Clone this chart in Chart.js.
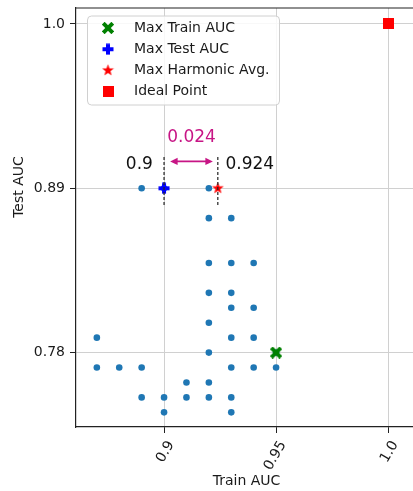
<!DOCTYPE html>
<html lang="en">
<head>
    <meta charset="UTF-8">
    <title>Train vs Test AUC</title>
    <style>
        html, body {
            margin: 0;
            padding: 0;
            background: #fff;
            overflow: hidden;
        }
        .chart-box {
            width: 424px;
            height: 491px;
        }
    </style>
</head>
<body>
    <div class="chart-box"><canvas id="aucChart"></canvas></div>

    <script src="https://cdn.jsdelivr.net/npm/chart.js"></script>
    <script>
        // grid search results (train AUC, test AUC)
        const trainAuc = [0.89, 0.90, 0.92,
                          0.92, 0.93,
                          0.92, 0.93, 0.94,
                          0.92, 0.93,
                          0.93, 0.94,
                          0.92,
                          0.87, 0.93, 0.94,
                          0.92, 0.95,
                          0.87, 0.88, 0.89, 0.93, 0.94, 0.95,
                          0.91, 0.92,
                          0.89, 0.90, 0.91, 0.92, 0.93,
                          0.90, 0.93];
        const testAuc  = [0.89, 0.89, 0.89,
                          0.87, 0.87,
                          0.84, 0.84, 0.84,
                          0.82, 0.82,
                          0.81, 0.81,
                          0.80,
                          0.79, 0.79, 0.79,
                          0.78, 0.78,
                          0.77, 0.77, 0.77, 0.77, 0.77, 0.77,
                          0.76, 0.76,
                          0.75, 0.75, 0.75, 0.75, 0.75,
                          0.74, 0.74];

        const maxTrainPoint = [0.95, 0.78];
        const maxTestPoint = [0.90, 0.89];
        const maxHarmonicPoint = [0.924, 0.89];
        const idealPoint = [1.0, 1.0];

        const xTicks = [0.9, 0.95, 1.0];
        const xTickLabels = ['0.9', '0.95', '1.0'];
        const yTicks = [0.78, 0.89, 1.0];
        const yTickLabels = ['0.78', '0.89', '1.0'];
        const legendLabels = ['Max Train AUC', 'Max Test AUC', 'Max Harmonic Avg.', 'Ideal Point'];

        const gapValue = maxHarmonicPoint[0] - maxTestPoint[0];

        const FONT = 'DejaVu Sans, sans-serif';

        function makeMarker(size, draw) {
            const c = document.createElement('canvas');
            c.width = size;
            c.height = size;
            const g = c.getContext('2d');
            g.translate(size / 2, size / 2);
            draw(g);
            return c;
        }

        const markerX = makeMarker(12, g => {
            g.rotate(Math.PI / 4);
            g.fillStyle = '#008000';
            g.fillRect(-6.8, -2, 13.6, 4);
            g.fillRect(-2, -6.8, 4, 13.6);
        });
        const markerPlus = makeMarker(12, g => {
            g.fillStyle = '#0000ff';
            g.fillRect(-5.5, -2, 11, 4);
            g.fillRect(-2, -5.5, 4, 11);
        });
        const markerStar = makeMarker(13, g => {
            g.fillStyle = '#ff0000';
            g.beginPath();
            for (let i = 0; i < 10; i++) {
                const r = i % 2 === 0 ? 6.2 : 2.6;
                const a = -Math.PI / 2 + i * Math.PI / 5;
                g.lineTo(r * Math.cos(a), r * Math.sin(a));
            }
            g.closePath();
            g.fill();
        });
        const markerSquare = makeMarker(11, g => {
            g.fillStyle = '#ff0000';
            g.fillRect(-5.5, -5.5, 11, 11);
        });
        const legendMarkers = [markerX, markerPlus, markerStar, markerSquare];

        function special(point, marker) {
            return {
                data: [{x: point[0], y: point[1]}],
                pointStyle: marker,
                pointRadius: 6,
                order: 1
            };
        }

        function dashedLine(x) {
            return {
                type: 'line',
                data: [{x: x, y: 0.911}, {x: x, y: 0.878}],
                borderColor: '#222',
                borderWidth: 1.2,
                borderDash: [3, 2],
                pointRadius: 0,
                showLine: true,
                fill: false,
                order: 0
            };
        }

        // draws the top frame, the y title, the gap annotation and the legend
        const extras = {
            id: 'extras',
            afterDraw(chart) {
                const ctx = chart.ctx;
                const area = chart.chartArea;
                const xs = chart.scales.x;
                const ys = chart.scales.y;
                ctx.save();

                ctx.strokeStyle = '#222';
                ctx.lineWidth = 1.2;
                ctx.beginPath();
                ctx.moveTo(area.left, area.top);
                ctx.lineTo(area.right, area.top);
                ctx.stroke();

                // y title
                ctx.fillStyle = '#1a1a1a';
                ctx.font = '14px ' + FONT;
                ctx.textAlign = 'center';
                ctx.textBaseline = 'middle';
                ctx.save();
                ctx.translate(19, 187);
                ctx.rotate(-Math.PI / 2);
                ctx.fillText('Test AUC', 0, 0);
                ctx.restore();

                // arrow between the two train AUC values
                const ay = ys.getPixelForValue(0.908);
                const ax1 = xs.getPixelForValue(maxTestPoint[0] + 0.0027);
                const ax2 = xs.getPixelForValue(maxHarmonicPoint[0] - 0.0022);
                ctx.strokeStyle = '#c71585';
                ctx.fillStyle = '#c71585';
                ctx.lineWidth = 1.6;
                ctx.beginPath();
                ctx.moveTo(ax1 + 4, ay);
                ctx.lineTo(ax2 - 4, ay);
                ctx.stroke();
                ctx.beginPath();
                ctx.moveTo(ax1, ay);
                ctx.lineTo(ax1 + 7.5, ay - 3.6);
                ctx.lineTo(ax1 + 7.5, ay + 3.6);
                ctx.closePath();
                ctx.fill();
                ctx.beginPath();
                ctx.moveTo(ax2, ay);
                ctx.lineTo(ax2 - 7.5, ay - 3.6);
                ctx.lineTo(ax2 - 7.5, ay + 3.6);
                ctx.closePath();
                ctx.fill();

                ctx.font = '17px ' + FONT;
                ctx.textAlign = 'center';
                ctx.fillText(gapValue.toFixed(3), (ax1 + ax2) / 2, ys.getPixelForValue(0.924));

                ctx.fillStyle = '#111';
                const ly = ys.getPixelForValue(0.906);
                ctx.textAlign = 'right';
                ctx.fillText(String(maxTestPoint[0]), xs.getPixelForValue(0.895), ly);
                ctx.textAlign = 'left';
                ctx.fillText(String(maxHarmonicPoint[0]), xs.getPixelForValue(0.9274), ly);

                // legend
                const bx = area.left + 11.5;
                const by = area.top + 8;
                const bw = 192;
                const bh = 89;
                ctx.fillStyle = 'rgba(255,255,255,0.85)';
                ctx.strokeStyle = '#d0d0d0';
                ctx.lineWidth = 1;
                ctx.beginPath();
                ctx.roundRect(bx, by, bw, bh, 4);
                ctx.fill();
                ctx.stroke();
                ctx.font = '14px ' + FONT;
                ctx.textAlign = 'left';
                ctx.fillStyle = '#1a1a1a';
                legendLabels.forEach((label, i) => {
                    const ry = by + 12 + i * 21.2;
                    const m = legendMarkers[i];
                    ctx.drawImage(m, bx + 20.5 - m.width / 2, ry - m.height / 2);
                    ctx.fillText(label, bx + 46.5, ry);
                });

                ctx.restore();
            }
        };

        new Chart(document.getElementById('aucChart'), {
            type: 'scatter',
            data: {
                datasets: [
                    {
                        data: trainAuc.map((t, i) => ({x: t, y: testAuc[i]})),
                        backgroundColor: '#1f77b4',
                        borderColor: '#1f77b4',
                        borderWidth: 0,
                        pointRadius: 3.3,
                        order: 10
                    },
                    special(maxTrainPoint, markerX),
                    special(maxTestPoint, markerPlus),
                    special(maxHarmonicPoint, markerStar),
                    special(idealPoint, markerSquare),
                    dashedLine(maxTestPoint[0]),
                    dashedLine(maxHarmonicPoint[0])
                ]
            },
            options: {
                responsive: true,
                maintainAspectRatio: false,
                animation: false,
                layout: {
                    padding: {top: 8, right: 2, left: 0, bottom: 0}
                },
                plugins: {
                    legend: {display: false},
                    tooltip: {enabled: false}
                },
                scales: {
                    x: {
                        type: 'linear',
                        min: 0.8607,
                        max: 1.0129,
                        afterBuildTicks: s => { s.ticks = xTicks.map(v => ({value: v})); },
                        afterFit: s => {
                            s.height = 64;
                            s.paddingLeft = 0;
                            s.paddingRight = 0;
                        },
                        grid: {color: '#d0d0d0', lineWidth: 1, tickLength: 6, tickColor: '#222'},
                        border: {color: '#222', width: 1.2},
                        ticks: {
                            autoSkip: false,
                            minRotation: 60,
                            maxRotation: 60,
                            padding: 5,
                            labelOffset: 7,
                            color: '#1a1a1a',
                            font: {family: FONT, size: 14},
                            callback: (v, i) => xTickLabels[i]
                        },
                        title: {
                            display: true,
                            text: 'Train AUC',
                            color: '#1a1a1a',
                            font: {family: FONT, size: 14},
                            padding: {top: 0, bottom: 1}
                        }
                    },
                    y: {
                        type: 'linear',
                        min: 0.7302,
                        max: 1.0107,
                        afterBuildTicks: s => { s.ticks = yTicks.map(v => ({value: v})); },
                        afterFit: s => {
                            s.width = 76;
                            s.paddingTop = 0;
                            s.paddingBottom = 0;
                        },
                        grid: {color: '#d0d0d0', lineWidth: 1, tickLength: 6, tickColor: '#222'},
                        border: {color: '#222', width: 1.2},
                        ticks: {
                            padding: 5,
                            color: '#1a1a1a',
                            font: {family: FONT, size: 14},
                            callback: (v, i) => yTickLabels[i]
                        }
                    }
                }
            },
            plugins: [extras]
        });
    </script>
</body>
</html>
